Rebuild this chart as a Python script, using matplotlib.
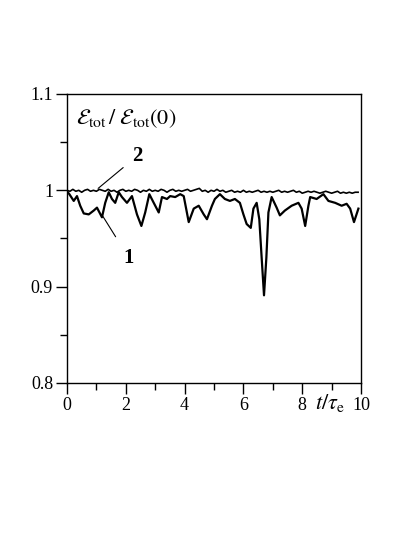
import numpy as np
import matplotlib
matplotlib.use("Agg")
import matplotlib.pyplot as plt

plt.rcParams['font.family'] = ['Liberation Serif', 'DejaVu Serif']
plt.rcParams['mathtext.fontset'] = 'stix'

# curve 1: total energy ratio
t1 = [0.0, 0.08, 0.23, 0.34, 0.45, 0.57, 0.74, 0.91, 1.02, 1.19, 1.30, 1.42, 1.53,
      1.64, 1.76, 1.87, 2.04, 2.21, 2.38, 2.53, 2.66, 2.80, 2.95, 3.12, 3.23, 3.40,
      3.51, 3.68, 3.85, 3.97, 4.14, 4.31, 4.48, 4.65, 4.76, 4.93, 5.03, 5.20, 5.37,
      5.54, 5.71, 5.88, 6.00, 6.11, 6.25, 6.34, 6.45, 6.54, 6.62, 6.70, 6.78, 6.85,
      6.96, 7.13, 7.24, 7.41, 7.64, 7.87, 7.98, 8.10, 8.21, 8.27, 8.49, 8.72, 8.89,
      9.12, 9.34, 9.51, 9.63, 9.76, 9.91]
e1 = [0.999, 0.996, 0.989, 0.994, 0.984, 0.976, 0.975, 0.979, 0.982, 0.972, 0.987,
      0.998, 0.991, 0.987, 0.998, 0.993, 0.987, 0.994, 0.975, 0.963, 0.977, 0.996,
      0.987, 0.977, 0.993, 0.991, 0.994, 0.993, 0.996, 0.994, 0.967, 0.981, 0.984,
      0.975, 0.970, 0.984, 0.991, 0.996, 0.991, 0.989, 0.991, 0.987, 0.975, 0.965,
      0.961, 0.981, 0.987, 0.970, 0.930, 0.891, 0.930, 0.977, 0.993, 0.982, 0.974,
      0.979, 0.984, 0.987, 0.981, 0.963, 0.984, 0.993, 0.991, 0.996, 0.989, 0.987,
      0.984, 0.986, 0.981, 0.967, 0.981]

# curve 2: stays close to 1
t2 = [0.0, 0.1, 0.2, 0.3, 0.4, 0.5, 0.6, 0.7, 0.8, 0.9, 1.0, 1.1, 1.2, 1.3, 1.4,
      1.5, 1.6, 1.7, 1.8, 1.9, 2.0, 2.1, 2.2, 2.3, 2.4, 2.5, 2.6, 2.7, 2.8, 2.9,
      3.0, 3.1, 3.2, 3.3, 3.4, 3.5, 3.6, 3.7, 3.8, 3.9, 4.0, 4.1, 4.2, 4.3, 4.4,
      4.5, 4.6, 4.7, 4.8, 4.9, 5.0, 5.1, 5.2, 5.3, 5.4, 5.5, 5.6, 5.7, 5.8, 5.9,
      6.0, 6.1, 6.2, 6.3, 6.4, 6.5, 6.6, 6.7, 6.8, 6.9, 7.0, 7.1, 7.2, 7.3, 7.4,
      7.5, 7.6, 7.7, 7.8, 7.9, 8.0, 8.1, 8.2, 8.3, 8.4, 8.5, 8.6, 8.7, 8.8, 8.9,
      9.0, 9.1, 9.2, 9.3, 9.4, 9.5, 9.6, 9.7, 9.8, 9.9]
e2 = [1.000, 0.999, 1.001, 0.999, 1.000, 0.998, 1.000, 1.001, 0.999, 1.000, 0.999,
      1.001, 1.000, 0.999, 1.001, 0.999, 1.000, 0.998, 1.000, 1.001, 0.999, 1.000,
      0.999, 1.001, 1.000, 0.998, 1.000, 0.999, 1.001, 0.999, 1.000, 0.999, 1.001,
      1.000, 0.998, 1.000, 1.001, 0.999, 1.000, 0.999, 1.000, 1.001, 0.999, 1.000,
      1.001, 1.002, 0.999, 1.000, 0.998, 1.000, 0.999, 1.001, 0.999, 1.000, 0.998,
      0.999, 1.000, 0.998, 0.999, 0.998, 1.000, 0.998, 0.999, 0.998, 0.999, 1.000,
      0.998, 0.999, 0.998, 0.999, 0.998, 0.999, 1.000, 0.998, 0.999, 0.998, 0.999,
      1.000, 0.998, 0.999, 0.997, 0.998, 0.999, 0.998, 0.999, 0.998, 0.997, 0.998,
      0.999, 0.998, 0.997, 0.998, 0.999, 0.997, 0.998, 0.997, 0.998, 0.997, 0.998, 0.998]

xticks = [0, 2, 4, 6, 8, 10]
xtick_labels = ['0', '2', '4', '6', '8', '10']
yticks = [0.8, 0.9, 1.0, 1.1]
ytick_labels = ['0.8', '0.9', '1', '1.1']

fig = plt.figure(figsize=(4.15, 5.37), dpi=100)
ax = fig.add_axes([0.1614, 0.2868, 0.7086, 0.5382])

ax.plot(t2, e2, color='black', lw=1.2)
ax.plot(t1, e1, color='black', lw=1.6)

ax.set_xlim(0, 10)
ax.set_ylim(0.8, 1.1)
ax.set_xticks(xticks)
ax.set_xticklabels(xtick_labels)
ax.set_xticks([1, 3, 5, 7, 9], minor=True)
ax.set_yticks(yticks)
ax.set_yticklabels(ytick_labels)
ax.set_yticks([0.85, 0.95, 1.05], minor=True)
ax.tick_params(which='major', direction='out', length=8, width=1, labelsize=13, pad=2)
ax.tick_params(which='minor', direction='out', length=5, width=1)
for sp in ax.spines.values():
    sp.set_linewidth(1.0)

ax.text(0.03, 0.915, r'$\mathcal{E}_{\rm tot}\,/\;\mathcal{E}_{\rm tot}(0)$',
        transform=ax.transAxes, fontsize=16, va='center', ha='left')

# x label sits between the 8 and 10 tick labels
ax.text(8.95, -0.068, r'$t/\tau_{\rm e}$', transform=ax.get_xaxis_transform(),
        fontsize=16, ha='center', va='center')

# curve labels with leader lines
ax.annotate('2', xy=(1.06, 1.002), xytext=(2.4, 1.036), fontsize=15,
            fontweight='bold', ha='center', va='center',
            arrowprops=dict(arrowstyle='-', color='black', lw=0.8, shrinkA=6, shrinkB=0))
ax.annotate('1', xy=(1.2, 0.974), xytext=(2.1, 0.930), fontsize=15,
            fontweight='bold', ha='center', va='center',
            arrowprops=dict(arrowstyle='-', color='black', lw=0.8, shrinkA=7, shrinkB=0))

fig.savefig('out.png', dpi=100)
